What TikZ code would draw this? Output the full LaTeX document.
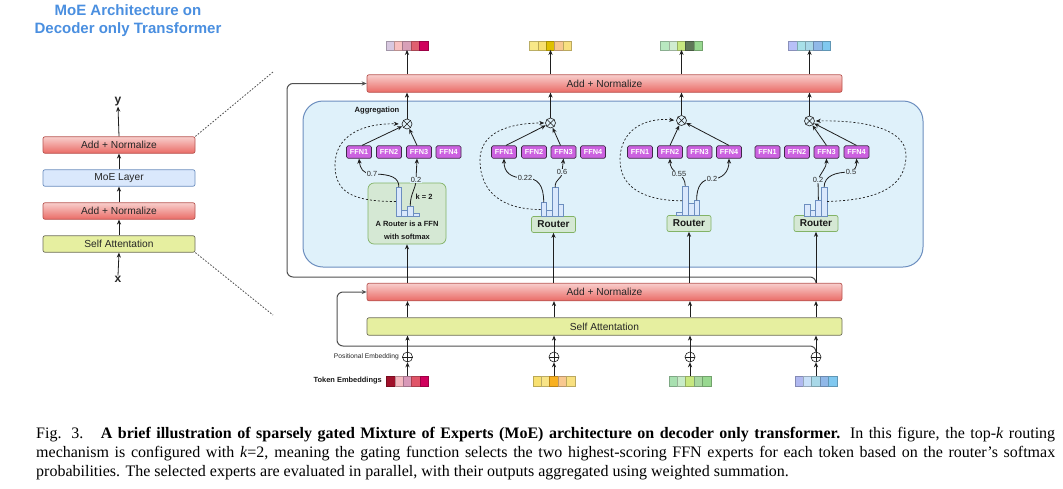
\documentclass[tikz,border=0pt]{standalone}
\usepackage{fontspec}
\setmainfont{Liberation Sans}
\newfontfamily\capfont{Liberation Serif}
\usetikzlibrary{arrows.meta,calc}
\definecolor{anTop}{HTML}{F8CECC}
\definecolor{anBot}{HTML}{EA6B66}
\definecolor{anDraw}{HTML}{B85450}
\definecolor{saFill}{HTML}{E6EFA0}
\definecolor{saDraw}{HTML}{6E6E5A}
\definecolor{moeFill}{HTML}{DAE8FC}
\definecolor{moeDraw}{HTML}{6C8EBF}
\definecolor{contFill}{HTML}{DFF1FA}
\definecolor{contDraw}{HTML}{6C8EBF}
\definecolor{rtFill}{HTML}{D5E8D4}
\definecolor{rtDraw}{HTML}{82B366}
\definecolor{ffnFill}{HTML}{CC62E0}
\definecolor{ffnDraw}{HTML}{3F2A48}
\definecolor{titleBlue}{HTML}{4A8FE0}
\definecolor{edgec}{HTML}{1E1E1E}
\definecolor{loopc}{HTML}{505050}
\newcommand{\tokstrip}[5]{%
  \node[inner sep=0, minimum width=42pt, minimum height=#4pt] (#1) at (#2,#3) {};
  \foreach \cc [count=\ii] in {#5} {
    \definecolor{tmpc}{HTML}{\cc}
    \filldraw[fill=tmpc, draw=tmpc!75!black, line width=0.4pt]
      ($(#1.south west)+(\ii*8.4-8.4,0)$) rectangle ++(8.4,-#4);
  }
}
\begin{document}
\begin{tikzpicture}[x=1pt,y=-1pt,
  base/.style={inner sep=0, text=black!85},
  box/.style={base, rounded corners=2pt, line width=0.7pt, font=\fontsize{10.2}{12}\selectfont},
  addnorm/.style={box, draw=anDraw, top color=anTop, bottom color=anBot},
  saBox/.style={box, draw=saDraw, fill=saFill},
  moeBox/.style={box, draw=moeDraw, fill=moeFill},
  leftbox/.style={minimum width=152pt, minimum height=16.5pt},
  wide/.style={minimum width=475pt, minimum height=17.5pt},
  ffn/.style={base, draw=ffnDraw, fill=ffnFill, text=white, rounded corners=1.5pt, line width=0.7pt,
    minimum width=25pt, minimum height=12.5pt, font=\bfseries\fontsize{7.3}{8}\selectfont},
  router/.style={base, draw=rtDraw, fill=rtFill, rounded corners=2pt, line width=0.7pt,
    minimum width=44pt, minimum height=16pt, font=\bfseries\fontsize{10}{12}\selectfont, text=black!90},
  bar/.style={base, draw=moeDraw, fill=moeFill, line width=0.5pt, minimum width=5.7pt},
  opc/.style={base, circle, draw=edgec, line width=0.6pt, minimum size=10pt},
  arr/.style={-{Stealth[length=5pt,width=4.2pt]}, draw=edgec, line width=0.8pt},
  dasharr/.style={arr, dash pattern=on 2pt off 2pt, line width=0.7pt},
  loopline/.style={arr, draw=loopc, line width=1pt, rounded corners=6pt},
  dotline/.style={draw=black!70, line width=0.8pt, dash pattern=on 1.6pt off 1.6pt},
  lbl/.style={base, fill=contFill, inner sep=0.6pt, font=\fontsize{7.4}{9}\selectfont, text=black!85},
  bsmall/.style={base, font=\bfseries\fontsize{7.5}{9}\selectfont, text=black!90}
]
\fill[white] (0,0) rectangle (1063,488);
\useasboundingbox (0,0) rectangle (1063,488);

% title
\node[base, align=center, text=titleBlue, font=\bfseries\fontsize{15}{18}\selectfont] (ttl) at (128,21)
  {MoE Architecture on\\Decoder only Transformer};

% left stack
\node[addnorm, leftbox] (lan2) at (119,145) {Add + Normalize};
\node[moeBox, leftbox] (lmoe) at (119,178) {MoE Layer};
\node[addnorm, leftbox] (lan1) at (119,211) {Add + Normalize};
\node[saBox, leftbox] (lsa) at (119,244) {Self Attentation};
\node[base, font=\bfseries\fontsize{12}{14}\selectfont] (ly) at (118,102) {y};
\node[base, font=\bfseries\fontsize{12}{14}\selectfont] (lx) at (118,279) {x};
\draw[arr] (lx.north) -- (lsa.south);
\draw[arr] (lsa.north) -- (lan1.south);
\draw[arr] (lan1.north) -- (lmoe.south);
\draw[arr] (lmoe.north) -- (lan2.south);
\draw[arr] (lan2.north) -- (ly.south);
\coordinate (zt) at (273,72);
\coordinate (zb) at (273,315);
\draw[dotline] (lan2.north east) -- (zt);
\draw[dotline] (lsa.south east) -- (zb);

% MoE container
\node[base, draw=contDraw, fill=contFill, line width=1pt, rounded corners=20pt,
  minimum width=620pt, minimum height=166pt] (cont) at (613,184) {};

% main boxes
\node[addnorm, wide] (an2) at (604.5,83.5) {Add + Normalize};
\node[addnorm, wide] (an1) at (604.5,292) {Add + Normalize};
\node[saBox, wide] (sa) at (604.5,326.5) {Self Attentation};

% routers
\node[base, draw=rtDraw, fill=rtFill, rounded corners=6pt, line width=0.7pt,
  minimum width=78pt, minimum height=61pt] (r1) at (407,213.5) {};
\node[bsmall, align=center, font=\bfseries\fontsize{7.5}{13}\selectfont] (r1t) at (407,230.5) {A Router is a FFN\\with softmax};
\node[bsmall] (k2) at (424,197) {k = 2};
\node[router] (r2) at (553.5,224.5) {Router};
\node[router] (r3) at (689,223.5) {Router};
\node[router] (r4) at (816,223.5) {Router};

% histogram bars
\node[bar, minimum height=29pt] (b11) at (398.85,201.5) {};
\node[bar, minimum height=6pt] (b12) at (404.55,213) {};
\node[bar, minimum height=10pt] (b13) at (410.25,211) {};
\node[bar, minimum height=3pt] (b14) at (415.95,214.5) {};

\node[bar, minimum height=14pt] (b21) at (543.7,209.5) {};
\node[bar, minimum height=6pt] (b22) at (549.4,213.5) {};
\node[bar, minimum height=29pt] (b23) at (555.1,202) {};
\node[bar, minimum height=12pt] (b24) at (560.8,210.5) {};

\node[bar, minimum height=3.5pt] (b31) at (679.55,213.75) {};
\node[bar, minimum height=29.5pt] (b32) at (685.25,200.75) {};
\node[bar, minimum height=12.5pt] (b33) at (690.95,209.25) {};
\node[bar, minimum height=15pt] (b34) at (696.65,208) {};

\node[bar, minimum height=12pt] (b41) at (807,210) {};
\node[bar, minimum height=6pt] (b42) at (812.7,213) {};
\node[bar, minimum height=16pt] (b43) at (818.4,208) {};
\node[bar, minimum height=29pt] (b44) at (824.1,201.5) {};

% FFN experts
\foreach \g/\xa/\xb/\xc/\xd/\yy in {1/359/389/419/448.5/152, 2/504/534/563.5/593/152, 3/640/670/699.5/729/152, 4/767.5/797/826.5/856.5/152}{
  \node[ffn] (f\g1) at (\xa,\yy) {FFN1};
  \node[ffn] (f\g2) at (\xb,\yy) {FFN2};
  \node[ffn] (f\g3) at (\xc,\yy) {FFN3};
  \node[ffn] (f\g4) at (\xd,\yy) {FFN4};
}

% aggregation circles
\node[opc] (agg1) at (407,124) {};
\node[opc] (agg2) at (550.5,123) {};
\node[opc] (agg3) at (681.5,120.5) {};
\node[opc] (agg4) at (809.5,121) {};
\foreach \a in {agg1,agg2,agg3,agg4}{
  \draw[edgec, line width=0.6pt] (\a.45) -- (\a.225) (\a.135) -- (\a.315);
}
\node[base, font=\bfseries\fontsize{7.6}{9}\selectfont, text=black!90] (aggl) at (377,111) {Aggregation};

% routing arrows with weights
\draw[arr] (b11.north) .. controls (398.8,178) and (392,174) .. (372,174) node[lbl]{0.7}
  .. controls (363,174) and (360,168) .. (f11.south);
\draw[arr] (b13.north) .. controls (410.2,194) and (416,188) .. (416,180) node[lbl]{0.2}
  -- ([xshift=-2pt]f13.south);
\draw[arr] (b21.north) .. controls (543.7,185) and (538,178) .. (525,178) node[lbl]{0.22}
  .. controls (510,178) and (504,172) .. (f21.south);
\draw[arr] (b23.north) .. controls (555.1,178) and (562,180) .. (562,172) node[lbl]{0.6}
  -- (f23.south);
\draw[arr] (b32.north) .. controls (685.3,180) and (682,176) .. (679,174) node[lbl]{0.55}
  .. controls (672,171) and (670,166) .. (f32.south);
\draw[arr] (b34.north) .. controls (696.6,186) and (702,179) .. (712,179) node[lbl]{0.2}
  .. controls (722,179) and (729,172) .. (f34.south);
\draw[arr] (b43.north) -- (818,180) node[lbl]{0.2}
  .. controls (821,172) and (826.5,168) .. (f43.south);
\draw[arr] (b44.north) .. controls (824.5,176) and (835,172) .. (851,172) node[lbl]{0.5}
  .. controls (855,170) and (857,166) .. (f44.south);

% expert outputs to aggregation
\draw[arr] ([xshift=3pt]f11.north) -- (agg1);
\draw[arr] ([xshift=-2pt]f13.north) -- (agg1);
\draw[arr] ([xshift=2pt]f21.north) -- (agg2);
\draw[arr] ([xshift=-3pt]f23.north) -- (agg2);
\draw[arr] (f32.north) -- (agg3);
\draw[arr] (f34.north) -- (agg3);
\draw[arr] (f43.north) -- (agg4);
\draw[arr] (f44.north) -- (agg4);

% dashed router-weight arrows
\draw[dasharr, shorten >=3pt] (b11.west) .. controls (352,201.5) and (335,192) .. (335,165)
  .. controls (335,136) and (362,123) .. (agg1.west);
\draw[dasharr, shorten >=1pt] (b21.west) .. controls (502,209.5) and (480,192) .. (480,160)
  .. controls (480,132) and (510,123) .. (agg2.west);
\draw[dasharr, shorten >=2pt] (b32.west) .. controls (642,200.75) and (620,186) .. (620,160)
  .. controls (620,130) and (645,117) .. (agg3.west);
\draw[dasharr, shorten >=1pt] (b44.east) .. controls (880,200) and (906,186) .. (906,155)
  .. controls (906,128) and (862,120) .. (agg4.east);

% token strips
\tokstrip{o1}{407}{45.5}{8.5}{D8C8E0,F8C0C0,D8A0B8,E06070,D0005C}
\tokstrip{o2}{550.5}{45.5}{8.5}{F8E888,F8E070,E0C000,F8C890,F8E080}
\tokstrip{o3}{681.5}{45.5}{8.5}{B8E8C0,D0ECD0,C8E880,607858,98D890}
\tokstrip{o4}{809.5}{45.5}{8.5}{B8C0F8,A8E0E8,A8D8E8,90B8E8,80C8F0}
\tokstrip{t1}{407.5}{381}{10.5}{A0102A,F4B8C0,D898B8,E05468,D0005C}
\tokstrip{t2}{554}{381}{10.5}{F8E070,F8E488,F8B020,F8C890,F8E080}
\tokstrip{t3}{690}{381}{10.5}{A8E0B0,C8ECC8,C8E880,A8D8A0,98D890}
\tokstrip{t4}{816}{381}{10.5}{B0B8F0,C8E0F8,A8D8E8,90B8E8,80C8F0}

% aggregation to top add+norm, to outputs
\foreach \i in {1,2,3,4}{
  \draw[arr] (agg\i.north) -- (agg\i.north |- an2.south);
  \draw[arr] (an2.north -| o\i) -- (o\i.south);
}

% positional embedding circles
\node[opc] (p1) at (407.5,357) {};
\node[opc] (p2) at (554,357) {};
\node[opc] (p3) at (690,357) {};
\node[opc] (p4) at (816,357) {};
\foreach \p in {p1,p2,p3,p4}{
  \draw[edgec, line width=0.6pt] (\p.north) -- (\p.south) (\p.east) -- (\p.west);
}
\node[base, anchor=east, font=\fontsize{6.7}{8}\selectfont] (pel) at (399,357) {Positional Embedding};
\node[base, anchor=east, font=\bfseries\fontsize{7.45}{9}\selectfont, text=black!90] (tel) at (382,381) {Token Embeddings};

% residual loops
\draw[loopline] (an1.north -| r4) |- (287,277) |- (an2.west);
\draw[loopline] (p4.north) |- (337,346) |- (an1.west);

% vertical flow
\foreach \i in {1,2,3,4}{
  \draw[arr] (t\i.north) -- (p\i.south);
  \draw[arr] (p\i.north) -- (p\i.north |- sa.south);
  \draw[arr] (sa.north -| p\i) -- (an1.south -| p\i);
  \draw[arr] (an1.north -| r\i) -- (r\i.south);
}

% caption
\node[base, anchor=north west, text width=1019pt, align=justify, text=black,
  font=\capfont\fontsize{16}{19}\selectfont] (cap) at (36,427)
  {Fig. 3.\hspace{0.5em} \textbf{A brief illustration of sparsely gated Mixture of Experts (MoE) architecture on decoder only transformer.} In this figure, the top-\textit{k} routing\linebreak
  mechanism is configured with \textit{k}=2, meaning the gating function selects the two highest-scoring FFN experts for each token based on the router’s softmax\linebreak
  probabilities. The selected experts are evaluated in parallel, with their outputs aggregated using weighted summation.};
\end{tikzpicture}
\end{document}
